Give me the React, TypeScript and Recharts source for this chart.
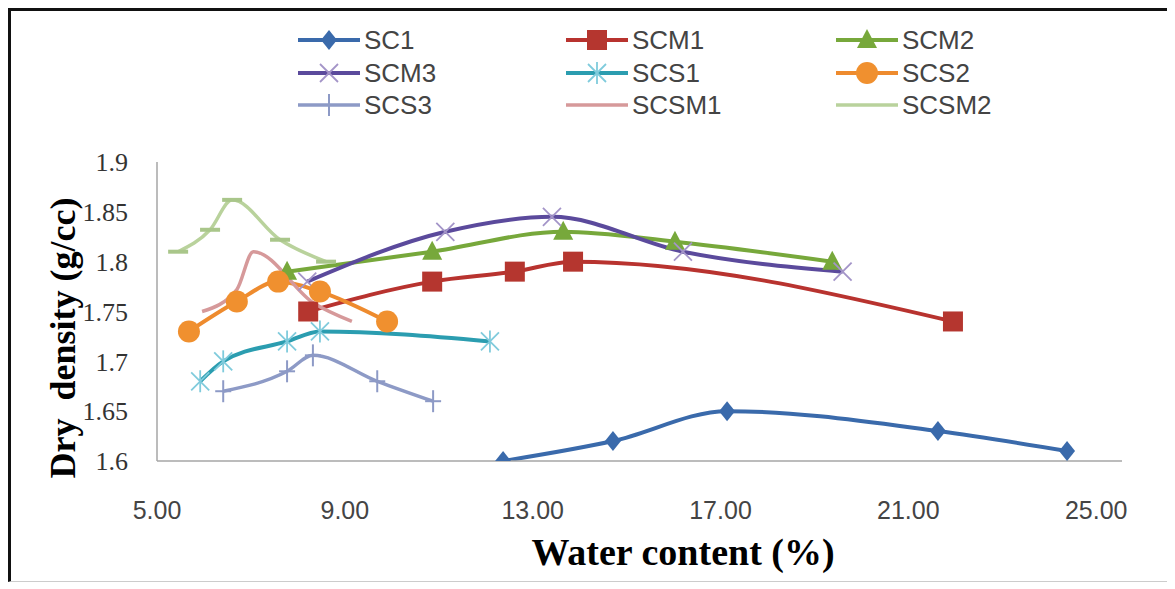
import React from 'react';
import { LineChart, Line, XAxis, YAxis } from 'recharts';

// axis ticks
const xTicks = [5, 9, 13, 17, 21, 25];
const yTicks = [1.6, 1.65, 1.7, 1.75, 1.8, 1.85, 1.9];

// water content (%) vs dry density (g/cc)
const sc1 = [
  { w: 12.37, d: 1.6 },
  { w: 14.71, d: 1.62 },
  { w: 17.14, d: 1.65 },
  { w: 21.63, d: 1.63 },
  { w: 24.38, d: 1.61 },
];
const scm1 = [
  { w: 8.22, d: 1.75 },
  { w: 10.86, d: 1.78 },
  { w: 12.62, d: 1.79 },
  { w: 13.86, d: 1.8 },
  { w: 21.95, d: 1.74 },
];
const scm2 = [
  { w: 7.77, d: 1.79 },
  { w: 10.86, d: 1.81 },
  { w: 13.65, d: 1.83 },
  { w: 16.03, d: 1.82 },
  { w: 19.38, d: 1.8 },
];
const scm3 = [
  { w: 8.2, d: 1.78 },
  { w: 11.14, d: 1.83 },
  { w: 13.41, d: 1.845 },
  { w: 16.2, d: 1.81 },
  { w: 19.6, d: 1.79 },
];
const scs1 = [
  { w: 5.92, d: 1.68 },
  { w: 6.41, d: 1.7 },
  { w: 7.77, d: 1.72 },
  { w: 8.47, d: 1.73 },
  { w: 12.09, d: 1.72 },
];
const scs2 = [
  { w: 5.68, d: 1.73 },
  { w: 6.7, d: 1.76 },
  { w: 7.58, d: 1.78 },
  { w: 8.47, d: 1.77 },
  { w: 9.9, d: 1.74 },
];
const scs3 = [
  { w: 6.41, d: 1.67 },
  { w: 7.77, d: 1.69 },
  { w: 8.32, d: 1.706 },
  { w: 9.69, d: 1.68 },
  { w: 10.88, d: 1.66 },
];
const scsm1 = [
  { w: 5.96, d: 1.75 },
  { w: 6.7, d: 1.772 },
  { w: 7.05, d: 1.81 },
  { w: 8.35, d: 1.758 },
  { w: 9.15, d: 1.74 },
];
const scsm2 = [
  { w: 5.45, d: 1.81 },
  { w: 6.13, d: 1.832 },
  { w: 6.6, d: 1.862 },
  { w: 7.62, d: 1.822 },
  { w: 8.6, d: 1.8 },
];

type Shape = 'diamond' | 'square' | 'triangle' | 'x' | 'star' | 'circle' | 'plus' | 'dash' | 'none';

const series: { name: string; data: { w: number; d: number }[]; color: string; mark: string; shape: Shape; width: number }[] = [
  { name: 'SC1', data: sc1, color: '#3a6aab', mark: '#3a6aab', shape: 'diamond', width: 4 },
  { name: 'SCM1', data: scm1, color: '#b8332f', mark: '#b5362f', shape: 'square', width: 4 },
  { name: 'SCM2', data: scm2, color: '#77a83b', mark: '#77a83b', shape: 'triangle', width: 4 },
  { name: 'SCM3', data: scm3, color: '#5b4a9c', mark: '#a394c8', shape: 'x', width: 4 },
  { name: 'SCS1', data: scs1, color: '#2b9db0', mark: '#7fcbdc', shape: 'star', width: 4 },
  { name: 'SCS2', data: scs2, color: '#ee8b2e', mark: '#f0902f', shape: 'circle', width: 4 },
  { name: 'SCS3', data: scs3, color: '#8d9ac6', mark: '#8d9ac6', shape: 'plus', width: 3.5 },
  { name: 'SCSM1', data: scsm1, color: '#d6999a', mark: '#d6999a', shape: 'none', width: 3.5 },
  { name: 'SCSM2', data: scsm2, color: '#b9d29c', mark: '#a9c68a', shape: 'dash', width: 3.5 },
];

const Marker = ({ shape, cx, cy, color }: { shape: Shape; cx: number; cy: number; color: string }) => {
  switch (shape) {
    case 'diamond':
      return <polygon points={`${cx},${cy - 10} ${cx + 8},${cy} ${cx},${cy + 10} ${cx - 8},${cy}`} fill={color} />;
    case 'square':
      return <rect x={cx - 10} y={cy - 10} width={20} height={20} fill={color} />;
    case 'triangle':
      return <polygon points={`${cx},${cy - 11} ${cx + 10},${cy + 8} ${cx - 10},${cy + 8}`} fill={color} />;
    case 'circle':
      return <circle cx={cx} cy={cy} r={11} fill={color} />;
    case 'x':
      return (
        <g stroke={color} strokeWidth={1.8}>
          <line x1={cx - 9} y1={cy - 9} x2={cx + 9} y2={cy + 9} />
          <line x1={cx - 9} y1={cy + 9} x2={cx + 9} y2={cy - 9} />
        </g>
      );
    case 'star':
      return (
        <g stroke={color} strokeWidth={1.8}>
          <line x1={cx - 9} y1={cy - 9} x2={cx + 9} y2={cy + 9} />
          <line x1={cx - 9} y1={cy + 9} x2={cx + 9} y2={cy - 9} />
          <line x1={cx} y1={cy - 11} x2={cx} y2={cy + 11} />
        </g>
      );
    case 'plus':
      return (
        <g stroke={color} strokeWidth={2}>
          <line x1={cx} y1={cy - 11} x2={cx} y2={cy + 11} />
          <line x1={cx - 8} y1={cy} x2={cx + 8} y2={cy} />
        </g>
      );
    case 'dash':
      return <line x1={cx - 10} y1={cy} x2={cx + 10} y2={cy} stroke={color} strokeWidth={4} />;
    default:
      return <g />;
  }
};

const makeDot = (shape: Shape, color: string) => (p: any) => (
  <Marker key={`m-${p.index}`} shape={shape} cx={p.cx} cy={p.cy} color={color} />
);

const YTitle = () => (
  <text
    x={52}
    y={327}
    transform="rotate(-90, 52, 327)"
    textAnchor="middle"
    dominantBaseline="central"
    style={{ fontFamily: 'Liberation Serif', fontWeight: 'bold', fontSize: 36, fill: '#000', whiteSpace: 'pre' }}
  >
    {'Dry  density (g/cc)'}
  </text>
);

const XTitle = () => (
  <text
    x={672}
    y={541}
    textAnchor="middle"
    dominantBaseline="central"
    style={{ fontFamily: 'Liberation Serif', fontWeight: 'bold', fontSize: 38, fill: '#000' }}
  >
    Water content (%)
  </text>
);

const legendCols = [287, 555, 825];
const legendRows = [29, 62, 94];

const LegendBox = () => (
  <>
    {series.map((s, i) => (
      <div
        key={s.name}
        style={{
          position: 'absolute',
          left: legendCols[i % 3],
          top: legendRows[Math.floor(i / 3)] - 14,
          height: 28,
          display: 'flex',
          alignItems: 'center',
        }}
      >
        <svg width={62} height={28}>
          <line x1={0} y1={14} x2={62} y2={14} stroke={s.color} strokeWidth={s.width} />
          {s.shape !== 'dash' && <Marker shape={s.shape} cx={31} cy={14} color={s.mark} />}
        </svg>
        <span style={{ fontFamily: 'Liberation Sans', fontSize: 26, color: '#444', marginLeft: 4 }}>{s.name}</span>
      </div>
    ))}
  </>
);

export default function App() {
  return (
    <div
      style={{
        position: 'relative',
        width: 1156,
        height: 570,
        borderTop: '3px solid #111',
        borderLeft: '3px solid #111',
        borderRight: '1px solid #ccc',
        borderBottom: '1px solid #ccc',
        background: '#fff',
      }}
    >
      <LegendBox />
      <LineChart width={1156} height={570} margin={{ top: 151, right: 45, bottom: 60, left: 86 }}>
        <XAxis
          type="number"
          dataKey="w"
          domain={[5, 25.55]}
          ticks={xTicks}
          allowDataOverflow
          tickFormatter={(v: number) => v.toFixed(2)}
          tickLine={false}
          tickSize={0}
          tickMargin={40}
          height={60}
          stroke="#a6a6a6"
          strokeWidth={1.5}
          tick={{ fontFamily: 'Liberation Sans', fontSize: 25, fill: '#444' }}
          label={<XTitle />}
        />
        <YAxis
          type="number"
          dataKey="d"
          domain={[1.6, 1.9]}
          ticks={yTicks}
          allowDataOverflow
          tickLine={false}
          tickSize={0}
          tickMargin={29}
          width={60}
          stroke="#a6a6a6"
          strokeWidth={1.5}
          tick={{ fontFamily: 'Liberation Serif', fontSize: 26, fill: '#333' }}
          label={<YTitle />}
        />
        {series.map((s) => (
          <Line
            key={s.name}
            name={s.name}
            data={s.data}
            dataKey="d"
            type="monotoneX"
            stroke={s.color}
            strokeWidth={s.width}
            dot={makeDot(s.shape, s.mark)}
            activeDot={false}
            isAnimationActive={false}
          />
        ))}
      </LineChart>
    </div>
  );
}
